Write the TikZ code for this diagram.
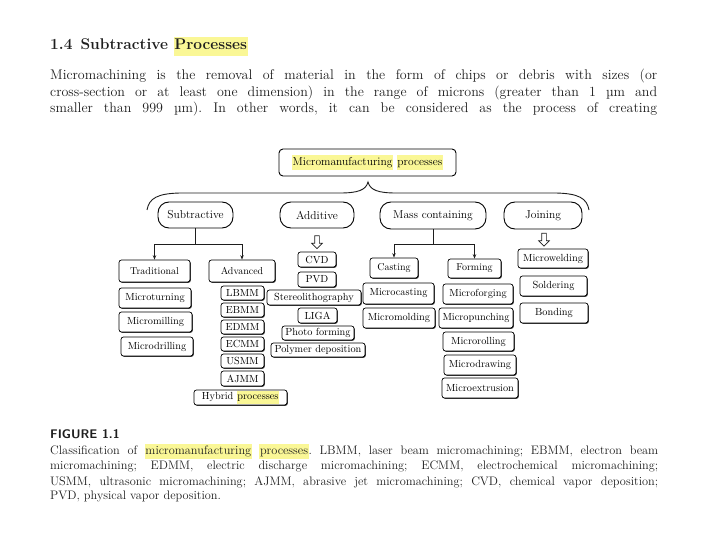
\documentclass[tikz,border=0pt]{standalone}
\usetikzlibrary{calc,shadows,shapes.arrows,arrows.meta}
\definecolor{hly}{RGB}{250,247,150}
\definecolor{ink}{RGB}{30,30,30}
\newcommand\hlw[1]{{\setlength{\fboxsep}{0.6pt}\colorbox{hly}{\strut #1}}}
\newcommand\jline[2]{\hbox to #1{\frenchspacing #2}}
\tikzset{
  sz/.style 2 args={minimum width=#1pt, minimum height=#2pt},
  topbox/.style={draw, line width=0.9pt, rounded corners=4pt, inner sep=0pt, fill=white, font=\fontsize{11.5}{13}\selectfont},
  catbox/.style={draw, line width=0.9pt, rounded corners=11pt, inner sep=0pt, fill=white, font=\fontsize{11.5}{13}\selectfont},
  subbox/.style={draw, line width=0.7pt, rounded corners=2.5pt, inner sep=0pt, fill=white,
     font=\fontsize{10}{11}\selectfont,
     drop shadow={shadow xshift=0.8pt, shadow yshift=-0.8pt, fill=black!85, opacity=1}},
  leaf/.style={subbox, font=\fontsize{10.3}{11}\selectfont},
  conn/.style={line width=0.8pt, draw=ink},
  arr/.style={conn, -{Stealth[length=4.5pt, width=3.5pt]}},
  hollow/.style={single arrow, draw=ink, fill=white, line width=0.7pt, shape border rotate=270,
     inner sep=2pt, minimum height=13pt, minimum width=10pt, single arrow head extend=3pt},
  bodyline/.style={anchor=base west, inner sep=0pt, text=ink, font=\fontsize{14}{16}\selectfont},
  capline/.style={anchor=base west, inner sep=0pt, text=ink, font=\fontsize{12.3}{14}\selectfont},
}
\begin{document}
\begin{tikzpicture}[x=1pt, y=-1pt]
\useasboundingbox[fill=white] (0,0) rectangle (720,540);

% ---------- text above ----------
\node[anchor=base west, inner sep=0pt, text=ink, font=\fontsize{15.5}{17}\selectfont\bfseries] (head) at (50,50)
  {1.4\hspace{8pt}Subtractive \hlw{Processes}};
\node[bodyline] (b1) at (50,80) {\jline{607pt}{Micromachining is the removal of material in the form of chips or debris with sizes (or}};
\node[bodyline] (b2) at (50,96.5) {\jline{607pt}{cross-section or at least one dimension) in the range of microns (greater than 1 µm and}};
\node[bodyline] (b3) at (50,113) {\jline{607pt}{smaller than 999 µm). In other words, it can be considered as the process of creating}};

% ---------- diagram ----------
\node[topbox, sz={177}{27}] (top) at (367.5,162.5) {\hlw{Micromanufacturing} \hlw{processes}};

\draw[line width=0.9pt, draw=ink] (147,210) .. controls (149,198) and (158,193.5) .. (180,193) -- (340,193)
   .. controls (358,193) and (366,190) .. (368,182)
   .. controls (370,190) and (378,193) .. (396,193) -- (556,193)
   .. controls (578,193.5) and (587,198) .. (589,210);

\node[catbox, sz={75}{26}] (sub) at (195.5,215) {Subtractive};
\node[catbox, sz={74}{26}] (add) at (317,215) {Additive};
\node[catbox, sz={106}{27}] (mass) at (433,215.5) {Mass containing};
\node[catbox, sz={78}{27}] (join) at (543,215.5) {Joining};

% subtractive
\node[subbox, sz={71}{22}] (trad) at (154.5,271) {Traditional};
\node[subbox, sz={66}{22}] (adv) at (242,271) {Advanced};
\coordinate (sj) at ($(sub.south)+(0,16)$);
\draw[conn] (sub.south) -- (sj);
\draw[conn] (sj -| trad.north) -- (sj -| adv.north);
\draw[arr] (sj -| trad.north) -- (trad.north);
\draw[arr] (sj -| adv.north) -- (adv.north);

\node[leaf, sz={72}{20}] (mturn) at (155,298) {Microturning};
\node[leaf, sz={73}{20}] (mmill) at (155.5,322) {Micromilling};
\node[leaf, sz={72}{19}] (mdrill) at (157,346.5) {Microdrilling};

\node[leaf, sz={43}{14}] (lbmm) at (242.5,293) {LBMM};
\node[leaf, sz={43}{14}] (ebmm) at (242.5,310) {EBMM};
\node[leaf, sz={43}{14}] (edmm) at (242.5,327) {EDMM};
\node[leaf, sz={43}{14}] (ecmm) at (242.5,344) {ECMM};
\node[leaf, sz={43}{14}] (usmm) at (242.5,361) {USMM};
\node[leaf, sz={43}{15}] (ajmm) at (242.5,378.5) {AJMM};
\node[leaf, sz={93}{15}] (hyb) at (240.5,397.5) {Hybrid \hlw{processes}};

% additive
\node[hollow] (ha) at (317,241) {};
\node[leaf, sz={38}{15}] (cvd) at (317,259.5) {CVD};
\node[leaf, sz={38}{15}] (pvd) at (317,279.5) {PVD};
\node[leaf, sz={94}{15}] (stereo) at (314,297.5) {Stereolithography};
\node[leaf, sz={39}{15}] (liga) at (317.5,315.5) {LIGA};
\node[leaf, sz={72}{14}] (photo) at (318,333) {Photo forming};
\node[leaf, sz={94}{14}] (poly) at (318,350) {Polymer deposition};

% mass containing
\node[subbox, sz={48}{20}] (cast) at (394,268) {Casting};
\node[subbox, sz={53}{19}] (form) at (474.5,268.5) {Forming};
\coordinate (mj) at ($(mass.south)+(0,15)$);
\draw[conn] (mass.south) -- (mj);
\draw[conn] (mj -| cast.north) -- (mj -| form.north);
\draw[arr] (mj -| cast.north) -- (cast.north);
\draw[arr] (mj -| form.north) -- (form.north);

\node[leaf, sz={71}{21}] (mcast) at (398.5,293.5) {Microcasting};
\node[leaf, sz={72}{20}] (mmold) at (399,318) {Micromolding};
\node[leaf, sz={70}{20}] (mforg) at (478,294) {Microforging};
\node[leaf, sz={74}{20}] (mpunch) at (476,318) {Micropunching};
\node[leaf, sz={71}{19}] (mroll) at (478.5,341.5) {Microrolling};
\node[leaf, sz={72}{20}] (mdraw) at (480,365) {Microdrawing};
\node[leaf, sz={76}{20}] (mextr) at (480,388) {Microextrusion};

% joining
\node[hollow] (hj) at (544,238.5) {};
\node[leaf, sz={70}{19}] (mweld) at (553,258.5) {Microwelding};
\node[leaf, sz={67}{20}] (solder) at (553.5,286) {Soldering};
\node[leaf, sz={68}{20}] (bond) at (554,313) {Bonding};

% ---------- caption ----------
\node[anchor=base west, inner sep=0pt, text=ink, font=\fontsize{12.5}{14}\selectfont\sffamily\bfseries] (fig) at (50,438) {FIGURE 1.1};
\node[capline] (c1) at (50,454) {\jline{608pt}{Classification of \hlw{micromanufacturing} \hlw{processes}. LBMM, laser beam micromachining; EBMM, electron beam}};
\node[capline] (c2) at (50,469.5) {\jline{608pt}{micromachining; EDMM, electric discharge micromachining; ECMM, electrochemical micromachining;}};
\node[capline] (c3) at (50,485) {\jline{608pt}{USMM, ultrasonic micromachining; AJMM, abrasive jet micromachining; CVD, chemical vapor deposition;}};
\node[capline] (c4) at (50,499.5) {PVD, physical vapor deposition.};
\end{tikzpicture}
\end{document}
